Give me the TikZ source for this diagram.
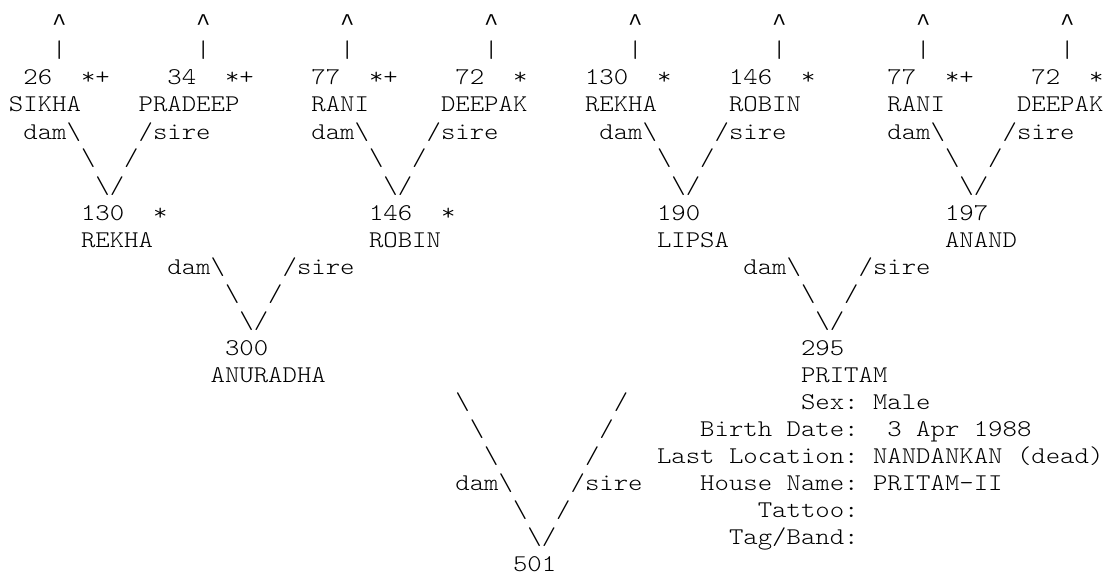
\documentclass[tikz,border=0pt]{standalone}
\usepackage{fontspec}
\newfontfamily\pedfont{lmmonolt10-regular.otf}[FakeStretch=1.1429]
\newfontfamily\caretfont{Liberation Mono}

\begin{document}
\begin{tikzpicture}[x=7.2pt, y=-13.5pt,
    cell/.style={anchor=base west, inner sep=0pt, outer sep=0pt, font={\fontsize{12pt}{13.5pt}\pedfont}},
    rcell/.style={cell, anchor=base east}]
  \useasboundingbox (-0.625,-0.148) rectangle (76.111,21.185);
  \foreach \c in {3,13,...,73} {
    \node[cell, font={\fontsize{12pt}{13.5pt}\caretfont}] (hat\c) at (\c,1) {\textasciicircum};
    \node[cell] (bar\c) at (\c,2) {\textbar};
  }
  \foreach \c/\t in {1/26, 11/34, 21/77, 31/72, 40/130, 50/146, 61/77, 71/72}
    \node[cell] (id\c) at (\c,3) {\t};
  \foreach \c/\t in {5/*+, 15/*+, 25/*+, 35/*, 45/*, 55/*, 65/*+, 75/*}
    \node[cell] (mark\c) at (\c,3) {\t};
  \foreach \c/\t in {0/SIKHA, 9/PRADEEP, 21/RANI, 30/DEEPAK, 40/REKHA, 50/ROBIN, 61/RANI, 70/DEEPAK}
    \node[cell] (name\c) at (\c,4) {\t};
  \foreach \o/\r in {0/5, 20/5, 40/5, 60/5, 10/10, 50/10} {
    \node[cell] (dam\o-\r) at (\o+1,\r) {dam\textbackslash};
    \node[cell] (sire\o-\r) at (\o+9,\r) {/sire};
    \node[cell] (dl\o-\r) at (\o+5,\r+1) {\textbackslash};
    \node[cell] (sl\o-\r) at (\o+8,\r+1) {/};
    \node[cell] (v\o-\r) at (\o+6,\r+2) {\textbackslash/};
  }
  \node[cell] (rekha) at (5,8) {130};
  \node[cell] at (10,8) {*};
  \node[cell] (robin) at (25,8) {146};
  \node[cell] at (30,8) {*};
  \node[cell] (lipsa) at (45,8) {190};
  \node[cell] (anand) at (65,8) {197};
  \foreach \c/\t in {5/REKHA, 25/ROBIN, 45/LIPSA, 65/ANAND}
    \node[cell] (pname\c) at (\c,9) {\t};
  \node[cell] (anuradha) at (15,13) {300};
  \node[cell] at (14,14) {ANURADHA};
  \node[cell] (pritam) at (55,13) {295};
  \node[cell] at (55,14) {PRITAM};
  \foreach \i in {0,1,2} {
    \node[cell] (ld\i) at (31+\i,15+\i) {\textbackslash};
    \node[cell] (rs\i) at (42-\i,15+\i) {/};
  }
  \node[cell] (dam501) at (31,18) {dam\textbackslash};
  \node[cell] (sire501) at (39,18) {/sire};
  \node[cell] (dl501) at (35,19) {\textbackslash};
  \node[cell] (sl501) at (38,19) {/};
  \node[cell] (v501) at (36,20) {\textbackslash/};
  \node[cell] (kid) at (35,21) {501};
  \foreach \r/\t in {15/Sex:, 16/Birth Date:, 17/Last Location:, 18/House Name:, 19/Tattoo:, 20/{Tag/Band:}}
    \node[rcell] (lab\r) at (59,\r) {\t};
  \node[cell] (sex) at (60,15) {Male};
  \node[cell] (born) at (61,16) {3 Apr 1988};
  \node[cell] (loc) at (60,17) {NANDANKAN (dead)};
  \node[cell] (house) at (60,18) {PRITAM-II};
\end{tikzpicture}
\end{document}
